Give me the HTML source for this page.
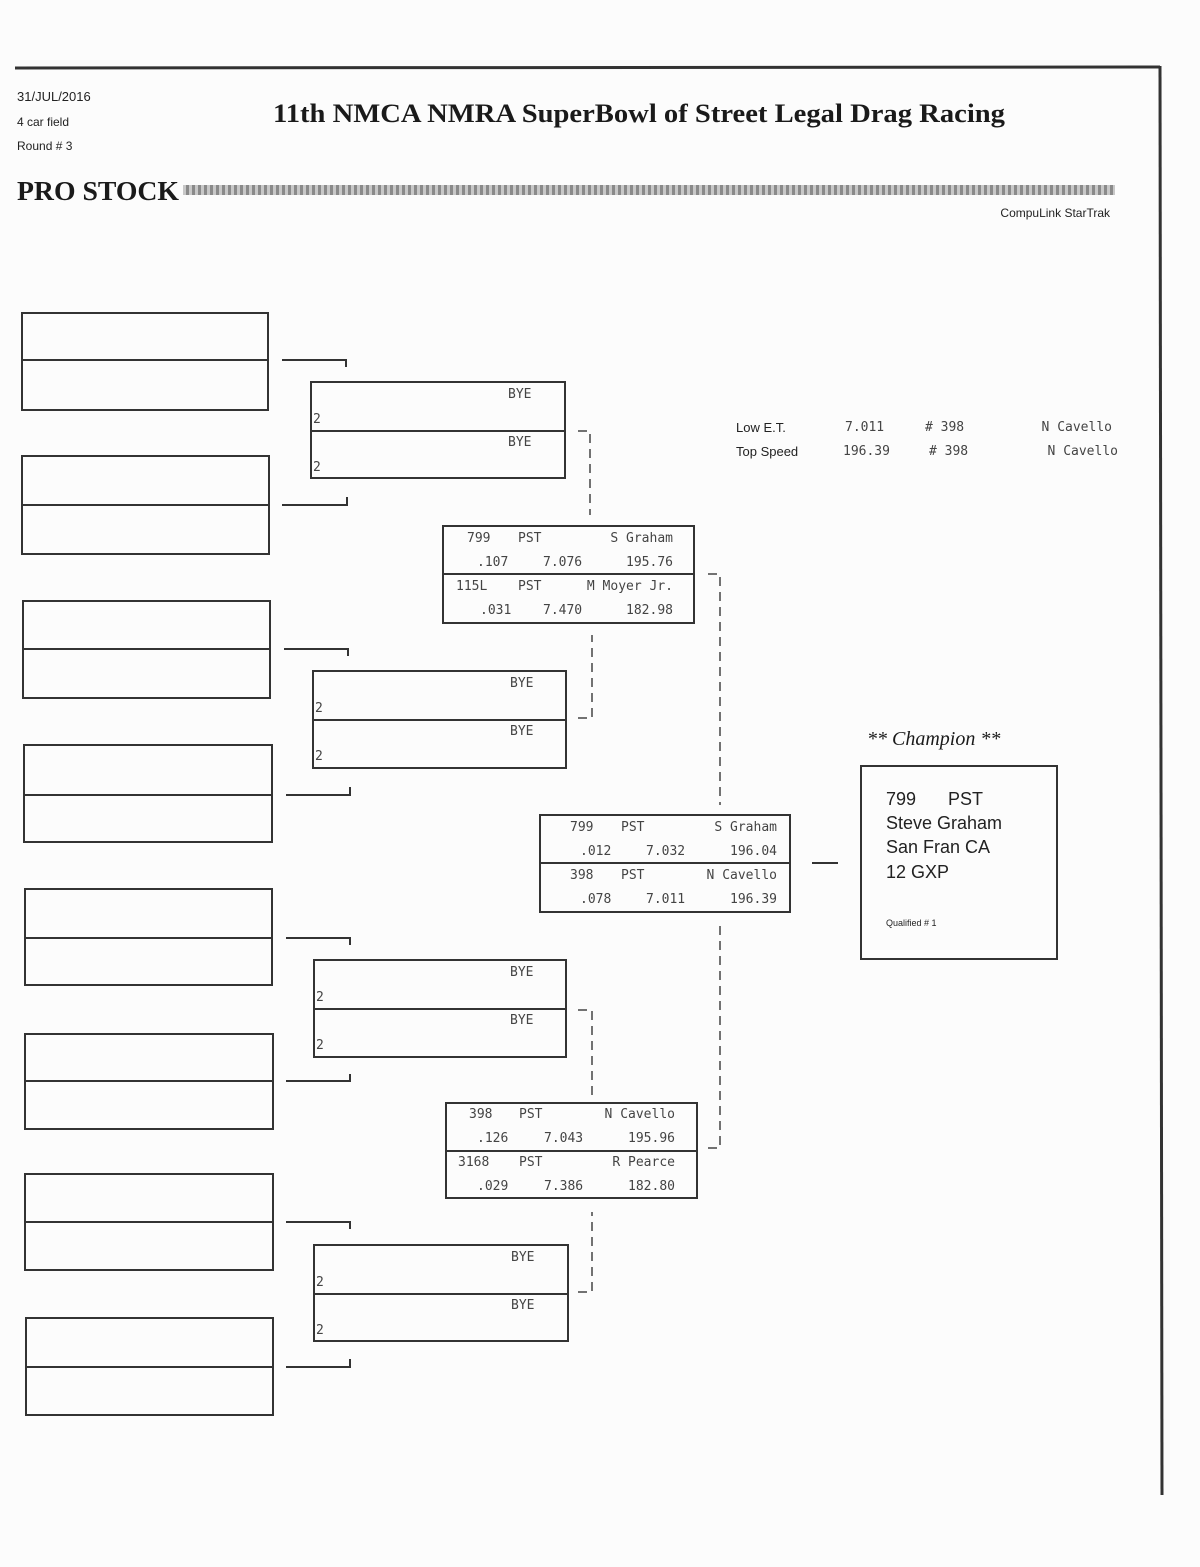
<!DOCTYPE html>
<html><head><meta charset="utf-8"><style>
html,body{margin:0;padding:0;background:#fdfdfd;}
svg{display:block}
.m{font-family:"DejaVu Sans Mono","Liberation Mono",monospace;font-size:13px;fill:#444;}
.s{font-family:"Liberation Serif",serif;fill:#1a1a1a;}
.a{font-family:"Liberation Sans",sans-serif;fill:#222;}
</style></head><body>
<svg width="1200" height="1567" viewBox="0 0 1200 1567" xmlns="http://www.w3.org/2000/svg">
<defs>
<pattern id="h" width="6" height="10" patternUnits="userSpaceOnUse">
<rect width="6" height="10" fill="#c8c8c8"/><rect x="0" width="3" height="10" fill="#8a8a8a"/>
</pattern>
</defs>
<rect width="1200" height="1567" fill="#fcfcfc"/>
<line x1="15" y1="68" x2="1160" y2="67" stroke="#333" stroke-width="3"/>
<line x1="1160" y1="66" x2="1162" y2="1495" stroke="#333" stroke-width="3"/>
<text class="a" x="17" y="101" font-size="13">31/JUL/2016</text>
<text class="a" x="17" y="126" font-size="12">4 car field</text>
<text class="a" x="17" y="150" font-size="12">Round # 3</text>
<text class="s" x="273" y="122" font-size="26" font-weight="bold" textLength="732" lengthAdjust="spacingAndGlyphs">11th NMCA NMRA SuperBowl of Street Legal Drag Racing</text>
<text class="s" x="17" y="200" font-size="27" font-weight="bold" textLength="162" lengthAdjust="spacingAndGlyphs" style="font-weight:600">PRO STOCK</text>
<rect x="183" y="185" width="932" height="10" fill="url(#h)"/>
<text class="a" x="1110" y="217" font-size="12" text-anchor="end">CompuLink StarTrak</text>

<g fill="none" stroke="#333" stroke-width="2">
<rect x="22" y="313" width="246" height="97"/><line x1="22" y1="360" x2="268" y2="360"/>
<rect x="22" y="456" width="247" height="98"/><line x1="22" y1="505" x2="269" y2="505"/>
<rect x="23" y="601" width="247" height="97"/><line x1="23" y1="649" x2="270" y2="649"/>
<rect x="24" y="745" width="248" height="97"/><line x1="24" y1="795" x2="272" y2="795"/>
<rect x="25" y="889" width="247" height="96"/><line x1="25" y1="938" x2="272" y2="938"/>
<rect x="25" y="1034" width="248" height="95"/><line x1="25" y1="1081" x2="273" y2="1081"/>
<rect x="25" y="1174" width="248" height="96"/><line x1="25" y1="1222" x2="273" y2="1222"/>
<rect x="26" y="1318" width="247" height="97"/><line x1="26" y1="1367" x2="273" y2="1367"/>
<path d="M282 360H346V367"/><path d="M282 505H347V497"/>
<path d="M284 649H348V656"/><path d="M286 795H350V787"/>
<path d="M286 938H350V945"/><path d="M286 1081H350V1074"/>
<path d="M286 1222H350V1229"/><path d="M286 1367H350V1359"/>
<rect x="311" y="382" width="254" height="96"/><line x1="311" y1="431" x2="565" y2="431"/>
<rect x="313" y="671" width="253" height="97"/><line x1="313" y1="720" x2="566" y2="720"/>
<rect x="314" y="960" width="252" height="97"/><line x1="314" y1="1009" x2="566" y2="1009"/>
<rect x="314" y="1245" width="254" height="96"/><line x1="314" y1="1294" x2="568" y2="1294"/>
<rect x="443" y="526" width="251" height="97"/><line x1="443" y1="574" x2="694" y2="574"/>
<rect x="446" y="1103" width="251" height="95"/><line x1="446" y1="1151" x2="697" y2="1151"/>
<rect x="540" y="815" width="250" height="97"/><line x1="540" y1="863" x2="790" y2="863"/>
<line x1="812" y1="863" x2="838" y2="863"/>
<rect x="861" y="766" width="196" height="193"/>
</g>
<g fill="none" stroke="#444" stroke-width="1.5" stroke-dasharray="9,6">
<path d="M578 431H590V515"/>
<path d="M578 718H592V635"/>
<path d="M578 1010H592V1095"/>
<path d="M578 1292H592V1212"/>
<path d="M708 574H720V805"/>
<path d="M708 1148H720V925"/>
</g>

<g class="m" font-size="12">
<text x="508" y="398">BYE</text><text x="508" y="446">BYE</text>
<text x="510" y="687">BYE</text><text x="510" y="735">BYE</text>
<text x="510" y="976">BYE</text><text x="510" y="1024">BYE</text>
<text x="511" y="1261">BYE</text><text x="511" y="1309">BYE</text>
<text x="313" y="423">2</text><text x="313" y="471">2</text>
<text x="315" y="712">2</text><text x="315" y="760">2</text>
<text x="316" y="1001">2</text><text x="316" y="1049">2</text>
<text x="316" y="1286">2</text><text x="316" y="1334">2</text>
</g>

<g class="m">
<text x="467" y="542">799</text><text x="518" y="542">PST</text><text x="673" y="542" text-anchor="end">S Graham</text>
<text x="477" y="566">.107</text><text x="543" y="566">7.076</text><text x="673" y="566" text-anchor="end">195.76</text>
<text x="456" y="590">115L</text><text x="518" y="590">PST</text><text x="673" y="590" text-anchor="end">M Moyer Jr.</text>
<text x="480" y="614">.031</text><text x="543" y="614">7.470</text><text x="673" y="614" text-anchor="end">182.98</text>

<text x="570" y="831">799</text><text x="621" y="831">PST</text><text x="777" y="831" text-anchor="end">S Graham</text>
<text x="580" y="855">.012</text><text x="646" y="855">7.032</text><text x="777" y="855" text-anchor="end">196.04</text>
<text x="570" y="879">398</text><text x="621" y="879">PST</text><text x="777" y="879" text-anchor="end">N Cavello</text>
<text x="580" y="903">.078</text><text x="646" y="903">7.011</text><text x="777" y="903" text-anchor="end">196.39</text>

<text x="469" y="1118">398</text><text x="519" y="1118">PST</text><text x="675" y="1118" text-anchor="end">N Cavello</text>
<text x="477" y="1142">.126</text><text x="544" y="1142">7.043</text><text x="675" y="1142" text-anchor="end">195.96</text>
<text x="458" y="1166">3168</text><text x="519" y="1166">PST</text><text x="675" y="1166" text-anchor="end">R Pearce</text>
<text x="477" y="1190">.029</text><text x="544" y="1190">7.386</text><text x="675" y="1190" text-anchor="end">182.80</text>

<text x="845" y="431">7.011</text><text x="925" y="431"># 398</text><text x="1112" y="431" text-anchor="end">N Cavello</text>
<text x="843" y="455">196.39</text><text x="929" y="455"># 398</text><text x="1118" y="455" text-anchor="end">N Cavello</text>
</g>
<text class="a" x="736" y="432" font-size="13">Low  E.T.</text>
<text class="a" x="736" y="456" font-size="13">Top Speed</text>

<text class="s" x="867" y="745" font-size="20" font-style="italic">** Champion **</text>
<g class="a" font-size="18">
<text x="886" y="805">799</text><text x="948" y="805">PST</text>
<text x="886" y="829">Steve Graham</text>
<text x="886" y="853">San Fran CA</text>
<text x="886" y="878">12 GXP</text>
</g>
<text class="a" x="886" y="926" font-size="9">Qualified # 1</text>
</svg>
</body></html>
